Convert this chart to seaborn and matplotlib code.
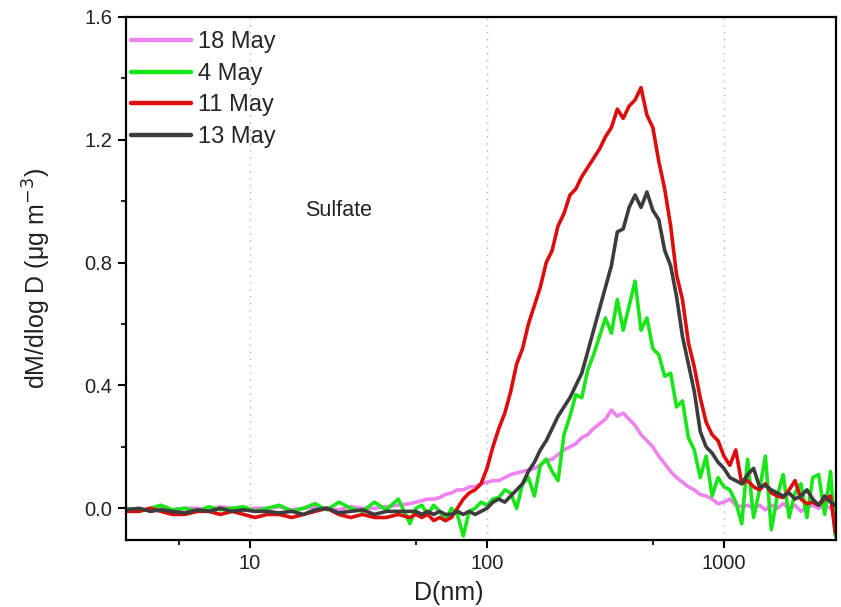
import matplotlib
matplotlib.use('Agg')
import matplotlib.pyplot as plt
import matplotlib.ticker as mticker
import pandas as pd
import seaborn as sns

# particle diameter (nm), shared by all four size distributions
diameter = [
    3.0, 3.4, 3.8, 4.2, 4.7, 5.3, 6.0, 6.7, 7.5, 8.4, 9.4, 10.5, 11.8, 13.3,
    15.0, 16.8, 18.8, 21.1, 23.7, 26.6, 29.8, 33.5, 37.6, 42.2, 47.3,
    50.1, 53.1, 56.2, 59.6, 63.1, 66.8, 70.8, 75.0, 79.4, 84.1, 89.1, 94.4,
    100, 105.9, 112.2, 118.9, 125.9, 133.4, 141.3, 149.6, 158.5, 167.9,
    177.8, 188.4, 199.5, 211.3, 223.9, 237.1, 251.2, 266.1, 281.8, 298.5,
    316.2, 335.0, 354.8, 375.8, 398.1, 421.7, 446.7, 473.2, 501.2, 530.9,
    562.3, 595.7, 631.0, 668.3, 707.9, 749.9, 794.3, 841.4, 891.3, 944.1,
    1000, 1059, 1122, 1189, 1259, 1334, 1413, 1496, 1585, 1679, 1778, 1884,
    1995, 2113, 2239, 2371, 2512, 2661, 2818, 2950,
]

may18 = [
    0.0, -0.005, 0.0, 0.005, -0.005, 0.0, 0.0, -0.005, 0.005, 0.0, -0.005,
    0.0, 0.0, 0.005, -0.005, 0.0, 0.005, 0.0, -0.005, 0.005, 0.0, 0.0,
    0.005, 0.01, 0.015,
    0.02, 0.025, 0.03, 0.03, 0.035, 0.045, 0.05, 0.06, 0.06, 0.07, 0.07,
    0.08, 0.085, 0.09, 0.09, 0.10, 0.11, 0.115, 0.12, 0.125, 0.13, 0.14,
    0.155, 0.16, 0.175, 0.19, 0.20, 0.21, 0.23, 0.24, 0.26, 0.275, 0.29,
    0.32, 0.30, 0.31, 0.29, 0.27, 0.24, 0.22, 0.20, 0.17, 0.145, 0.12,
    0.10, 0.085, 0.07, 0.06, 0.045, 0.04, 0.03, 0.015, 0.02, 0.03, 0.01,
    0.005, 0.01, 0.0, 0.01, -0.005, 0.01, 0.0, 0.015, 0.0, 0.01, -0.01,
    0.005, 0.01, 0.0, 0.01, 0.0, 0.005,
]

may4 = [
    0.0, -0.01, 0.0, 0.01, -0.005, 0.0, -0.01, 0.005, -0.005, 0.0, 0.005,
    -0.01, 0.0, 0.01, -0.01, 0.0, 0.015, -0.005, 0.02, 0.0, -0.01, 0.02,
    -0.005, 0.03, -0.05,
    0.0, 0.01, -0.02, 0.01, -0.01, -0.04, 0.0, -0.02, -0.09, -0.01, 0.0,
    0.02, 0.01, 0.03, 0.035, 0.06, 0.05, 0.0, 0.08, 0.10, 0.04, 0.14,
    0.16, 0.12, 0.09, 0.24, 0.30, 0.37, 0.36, 0.45, 0.50, 0.56, 0.62,
    0.57, 0.68, 0.58, 0.66, 0.74, 0.58, 0.62, 0.52, 0.50, 0.43, 0.44,
    0.33, 0.35, 0.23, 0.19, 0.10, 0.17, 0.04, 0.10, 0.07, 0.06, 0.02,
    -0.05, 0.16, -0.03, 0.06, 0.17, -0.07, 0.04, 0.11, -0.03, 0.05, 0.08,
    -0.03, 0.10, 0.11, -0.02, 0.12, -0.09,
]

may11 = [
    -0.01, -0.01, 0.0, -0.01, -0.02, -0.02, -0.01, -0.01, -0.02, -0.01,
    -0.02, -0.03, -0.02, -0.02, -0.03, -0.02, -0.01, 0.0, -0.02, -0.03,
    -0.02, -0.03, -0.03, -0.02, -0.03,
    -0.02, -0.03, -0.02, -0.04, -0.03, -0.04, -0.03, 0.0, 0.03, 0.05, 0.06,
    0.08, 0.13, 0.20, 0.26, 0.31, 0.38, 0.47, 0.52, 0.60, 0.66, 0.72,
    0.80, 0.84, 0.92, 0.96, 1.02, 1.04, 1.08, 1.11, 1.14, 1.17, 1.21,
    1.24, 1.30, 1.27, 1.31, 1.33, 1.37, 1.28, 1.24, 1.13, 1.04, 0.92,
    0.76, 0.68, 0.54, 0.46, 0.36, 0.28, 0.24, 0.22, 0.17, 0.14, 0.19,
    0.08, 0.09, 0.07, 0.06, 0.08, 0.05, 0.04, 0.035, 0.06, 0.09, 0.03,
    0.015, 0.02, 0.01, 0.03, 0.04, -0.08,
]

may13 = [
    -0.005, 0.0, -0.01, -0.005, -0.01, -0.015, -0.005, -0.01, 0.0, -0.01,
    -0.005, -0.01, -0.01, -0.015, -0.01, -0.02, -0.005, 0.0, -0.015, -0.01,
    -0.005, -0.02, -0.01, -0.01, -0.01,
    -0.01, -0.02, -0.01, -0.02, -0.01, -0.02, -0.02, -0.01, -0.02, -0.01,
    -0.02, -0.01, 0.0, 0.02, 0.03, 0.02, 0.04, 0.06, 0.08, 0.12, 0.15,
    0.19, 0.22, 0.26, 0.30, 0.33, 0.36, 0.40, 0.44, 0.51, 0.58, 0.65,
    0.72, 0.79, 0.90, 0.91, 0.98, 1.02, 0.98, 1.03, 0.97, 0.94, 0.84,
    0.79, 0.69, 0.56, 0.47, 0.38, 0.25, 0.20, 0.18, 0.15, 0.13, 0.10,
    0.09, 0.08, 0.11, 0.13, 0.07, 0.075, 0.06, 0.05, 0.04, 0.05, 0.03,
    0.04, 0.06, 0.03, 0.01, 0.04, 0.02, 0.01,
]

labels = ['18 May', '4 May', '11 May', '13 May']
colors = ['#ee82ee', '#19e619', '#dd0d0d', '#3c3c3c']


def build_frame():
    frames = []
    for lab, vals in zip(labels, [may18, may4, may11, may13]):
        frames.append(pd.DataFrame({'D': diameter, 'dM': vals, 'date': lab}))
    return pd.concat(frames, ignore_index=True)


def plot(df, image_name):
    sns.set_style('ticks')
    plt.rcParams['font.family'] = ['Liberation Sans', 'DejaVu Sans']

    fig = plt.figure(figsize=(8.41, 6.07), dpi=100)
    ax = fig.add_axes([0.150, 0.110, 0.844, 0.862])

    sns.lineplot(data=df, x='D', y='dM', hue='date', hue_order=labels,
                 palette=dict(zip(labels, colors)), linewidth=2.6,
                 estimator=None, ax=ax)

    ax.set_xscale('log')
    ax.set_xlim(3, 2970)
    ax.set_ylim(-0.104, 1.6)

    ax.xaxis.set_major_locator(mticker.FixedLocator([10, 100, 1000]))
    ax.xaxis.set_major_formatter(mticker.FixedFormatter(['10', '100', '1000']))
    ax.xaxis.set_minor_locator(mticker.FixedLocator([5, 50, 500]))
    ax.xaxis.set_minor_formatter(mticker.NullFormatter())
    ax.yaxis.set_major_locator(mticker.MultipleLocator(0.4))
    ax.yaxis.set_minor_locator(mticker.MultipleLocator(0.2))
    ax.yaxis.set_major_formatter(mticker.FormatStrFormatter('%.1f'))

    ax.grid(True, axis='x', which='major', linestyle=(0, (1, 4)),
            color='#b0b0b0', linewidth=1.0)

    for sp in ax.spines.values():
        sp.set_linewidth(1.6)
        sp.set_color('black')
    ax.tick_params(which='major', direction='out', length=6, width=1.5,
                   labelsize=14.5, colors='black', labelcolor='#222222',
                   pad=4)
    ax.tick_params(which='minor', direction='out', length=3.5, width=1.5)

    ax.set_xlabel('D(nm)', fontsize=18, color='#222222')
    ax.set_ylabel('dM/dlog D (μg m$^{-3}$)', fontsize=18, color='#222222')
    ax.xaxis.set_label_coords(0.455, -0.078)
    ax.yaxis.set_label_coords(-0.103, 0.5)

    ax.text(17, 0.97, 'Sulfate', fontsize=15.5, ha='left', va='center',
            color='#222222')

    handles, leg_labels = ax.get_legend_handles_labels()
    for h in handles:
        h.set_linewidth(3.2)
    ax.legend(handles, leg_labels, loc='upper left', frameon=False,
              fontsize=17, handlelength=2.55, handletextpad=0.28,
              labelspacing=0.41, borderaxespad=0.0, borderpad=0.2,
              bbox_to_anchor=(0.0, 0.982))

    fig.savefig(image_name, dpi=100)


def main():
    df = build_frame()
    plot(df, 'out.png')


if __name__ == '__main__':
    main()
